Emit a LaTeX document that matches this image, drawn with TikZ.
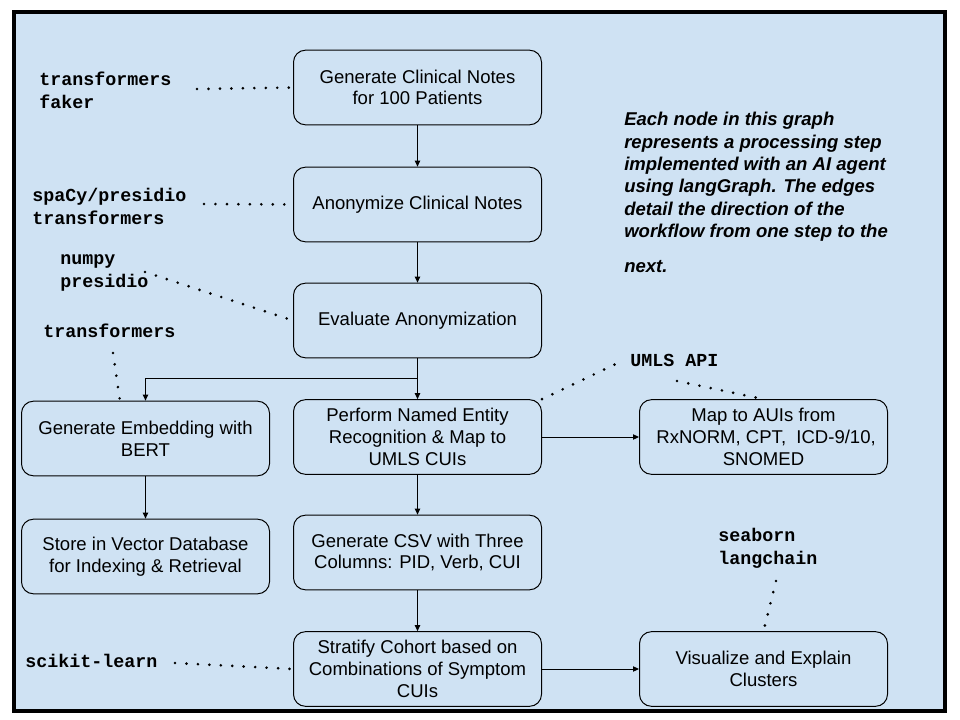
\documentclass[tikz,border=0pt]{standalone}
\usepackage{fontspec}
\setmainfont{Liberation Sans}
\setmonofont{Liberation Mono}
\usetikzlibrary{arrows.meta}
\definecolor{bgblue}{HTML}{CFE2F3}
\begin{document}
\begin{tikzpicture}[x=0.75pt,y=-0.75pt,
  stepbox/.style={draw=black, line width=0.75pt, rounded corners=9pt,
    minimum width=186pt, minimum height=56pt, align=center, inner sep=0pt,
    font=\fontsize{13.9}{16.3}\selectfont},
  libtext/.style={anchor=west, align=left, inner sep=0pt,
    font=\fontsize{13.75}{17.2}\selectfont\ttfamily\bfseries},
  flow/.style={draw=black, line width=0.75pt, -{Triangle[length=4.5pt,width=4pt]}},
  dotline/.style={draw=black, line width=2.2pt, line cap=round, dash pattern=on 0pt off 8.6pt}]
\useasboundingbox (0,0) rectangle (960,720);
\draw[line width=2.4pt, fill=bgblue] (14,12) rectangle (945,711);

% main column
\node[stepbox] (n1) at (417.5,87.5) {Generate Clinical Notes\\for 100 Patients};
\node[stepbox] (n2) at (417.5,204.5) {Anonymize Clinical Notes};
\node[stepbox] (n3) at (417.5,320.5) {Evaluate Anonymization};
\node[stepbox] (n4) at (417.5,437) {Perform Named Entity\\Recognition \& Map to\\UMLS CUIs};
\node[stepbox] (n5) at (417.5,552.5) {Generate CSV with Three\\Columns: PID, Verb, CUI};
\node[stepbox] (n6) at (417.5,669) {Stratify Cohort based on\\Combinations of Symptom\\CUIs};

% left column
\node[stepbox] (emb) at (145.5,438.5) {Generate Embedding with\\BERT};
\node[stepbox] (store) at (145.5,556.5) {Store in Vector Database\\for Indexing \& Retrieval};

% right column
\node[stepbox] (map) at (763.5,437) {Map to AUIs from\\\ RxNORM, CPT,\ \ ICD-9/10,\\SNOMED};
\node[stepbox] (vis) at (763.5,669) {Visualize and Explain\\Clusters};

% library labels
\node[libtext] (l1) at (39,90.5) {transformers\\faker};
\node[libtext] (l2) at (32,206) {spaCy/presidio\\transformers};
\node[libtext] (l3) at (60,272.5) {numpy\\presidio};
\node[libtext] (l4) at (43,331) {transformers};
\node[libtext] (l5) at (25,661) {scikit-learn};
\node[libtext] (l6) at (630,360) {UMLS API};
\node[libtext] (l7) at (718,548.5) {seaborn\\langchain};

% note
\node[anchor=north west, align=left, inner sep=0pt,
  font=\fontsize{13.9}{16.8}\selectfont\bfseries\itshape] (note) at (624,112)
  {Each node in this graph\\represents a processing step\\implemented with an AI agent\\using langGraph. The edges\\detail the direction of the\\workflow from one step to the\\[9pt]next.};

% flow arrows
\draw[flow] (n1.south) -- (n2.north);
\draw[flow] (n2.south) -- (n3.north);
\draw[flow] (n3.south) -- (n4.north);
\coordinate (br) at (417.5,378);
\draw[flow] (br) -| (emb.north);
\draw[flow] (emb.south) -- (store.north);
\draw[flow] (n4.east) -- (map.west);
\draw[flow] (n4.south) -- (n5.north);
\draw[flow] (n5.south) -- (n6.north);
\draw[flow] (n6.east) -- (vis.west);

% dotted links
\coordinate (d1) at (197,89);
\coordinate (d2) at (204,204);
\coordinate (d3) at (145,272);
\coordinate (d4) at (113,353);
\coordinate (e4) at (120,401);
\coordinate (d5) at (175,663);
\coordinate (d6) at (622,361);
\coordinate (d6b) at (677,381);
\coordinate (d7) at (776,581);
\draw[dotline] (d1) -- (n1.west);
\draw[dotline] (d2) -- (n2.west);
\draw[dotline] (d3) -- (n3.west);
\draw[dotline] (d4) -- (e4);
\draw[dotline] (d5) -- (n6.west);
\draw[dotline] (n4.north east) -- (d6);
\draw[dotline] (d6b) -- (map.north);
\draw[dotline] (d7) -- (vis.north);
\end{tikzpicture}
\end{document}
